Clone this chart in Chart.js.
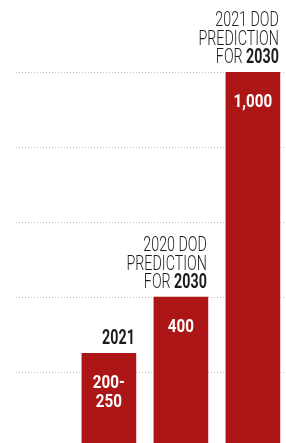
<!DOCTYPE html>
<html>
<head>
<meta charset="utf-8">
<script src="https://cdn.jsdelivr.net/npm/chart.js@4"></script>
<style>
  html, body { margin: 0; padding: 0; background: #fff; overflow: hidden; }
  canvas { display: block; }
</style>
</head>
<body>
<canvas id="myChart" width="286" height="450"></canvas>
<script>
// data
const categories = ['2021', '2020 DoD prediction for 2030', '2021 DoD prediction for 2030'];
const values = [250, 400, 1000];
const valueLabels = [['200-', '250'], ['400'], ['1,000']];
// header lines: [light part, bold part]
const headers = [
  [['', '2021']],
  [['2020 DOD', ''], ['PREDICTION', ''], ['FOR ', '2030']],
  [['2021 DOD', ''], ['PREDICTION', ''], ['FOR ', '2030']]
];
const yTicks = [0, 200, 400, 600, 800, 1000];

const barColor = '#ad1616';
const textColor = '#1c1c1c';
const sx = 0.68;
const lineH = 18.5;
const lightFont = '300 21px Roboto';
const boldFont = 'bold 21px Roboto';

function drawSqueezed(ctx, text, x, y, s, align) {
  ctx.save();
  ctx.translate(x, y);
  ctx.scale(s, 1);
  ctx.textAlign = align;
  ctx.fillText(text, 0, 0);
  ctx.restore();
}

function headerBox(ctx, bar, i) {
  const right = bar.x + bar.width / 2 - 1;
  const lines = headers[i];
  let maxW = 0;
  lines.forEach(l => {
    ctx.font = lightFont; let w = ctx.measureText(l[0]).width;
    ctx.font = boldFont; w += ctx.measureText(l[1]).width;
    maxW = Math.max(maxW, w * sx);
  });
  const lastBase = bar.y - 9;
  const firstBase = lastBase - lineH * (lines.length - 1);
  return { right, maxW, firstBase, lastBase };
}

const labelPlugin = {
  id: 'barLabels',
  beforeDatasetsDraw(chart) {
    const ctx = chart.ctx;
    chart.getDatasetMeta(0).data.forEach((bar, i) => {
      const b = headerBox(ctx, bar, i);
      ctx.fillStyle = '#fff';
      ctx.fillRect(b.right - b.maxW - 4, b.firstBase - 28, b.maxW + 8, b.lastBase - b.firstBase + 30);
    });
  },
  afterDatasetsDraw(chart) {
    const ctx = chart.ctx;
    chart.getDatasetMeta(0).data.forEach((bar, i) => {
      const b = headerBox(ctx, bar, i);
      ctx.fillStyle = textColor;
      ctx.textBaseline = 'alphabetic';
      headers[i].forEach((l, k) => {
        const base = b.firstBase + k * lineH;
        ctx.font = boldFont;
        const bw = ctx.measureText(l[1]).width * sx;
        if (l[1]) drawSqueezed(ctx, l[1], b.right, base, sx, 'right');
        ctx.font = lightFont;
        if (l[0]) drawSqueezed(ctx, l[0], b.right - bw, base, sx, 'right');
      });
      // value inside bar
      ctx.fillStyle = '#fff';
      ctx.font = 'bold 19px Roboto';
      valueLabels[i].forEach((t, k) => {
        drawSqueezed(ctx, t, bar.x, bar.y + 35 + k * 19, 0.8, 'center');
      });
    });
  }
};

new Chart(document.getElementById('myChart').getContext('2d'), {
  type: 'bar',
  data: {
    datasets: [{
      label: 'Data',
      data: values.map((v, i) => ({ x: i + 1, y: v })),
      backgroundColor: barColor,
      barThickness: 54,
      borderWidth: 0
    }]
  },
  plugins: [labelPlugin],
  options: {
    responsive: false,
    animation: false,
    events: [],
    layout: { padding: { left: 16, top: 72, right: 0, bottom: 3 } },
    plugins: { legend: { display: false }, tooltip: { enabled: false } },
    scales: {
      x: {
        type: 'linear',
        display: false,
        offset: false,
        min: -0.29,
        max: 3.46
      },
      y: {
        min: 0,
        max: 1000,
        afterBuildTicks: axis => { axis.ticks = yTicks.map(v => ({ value: v })); },
        ticks: { display: false },
        border: { display: false, dash: [1, 2] },
        grid: { color: '#bdbdbd', drawTicks: false, tickLength: 0, lineWidth: 1 }
      }
    }
  }
});
</script>
</body>
</html>
